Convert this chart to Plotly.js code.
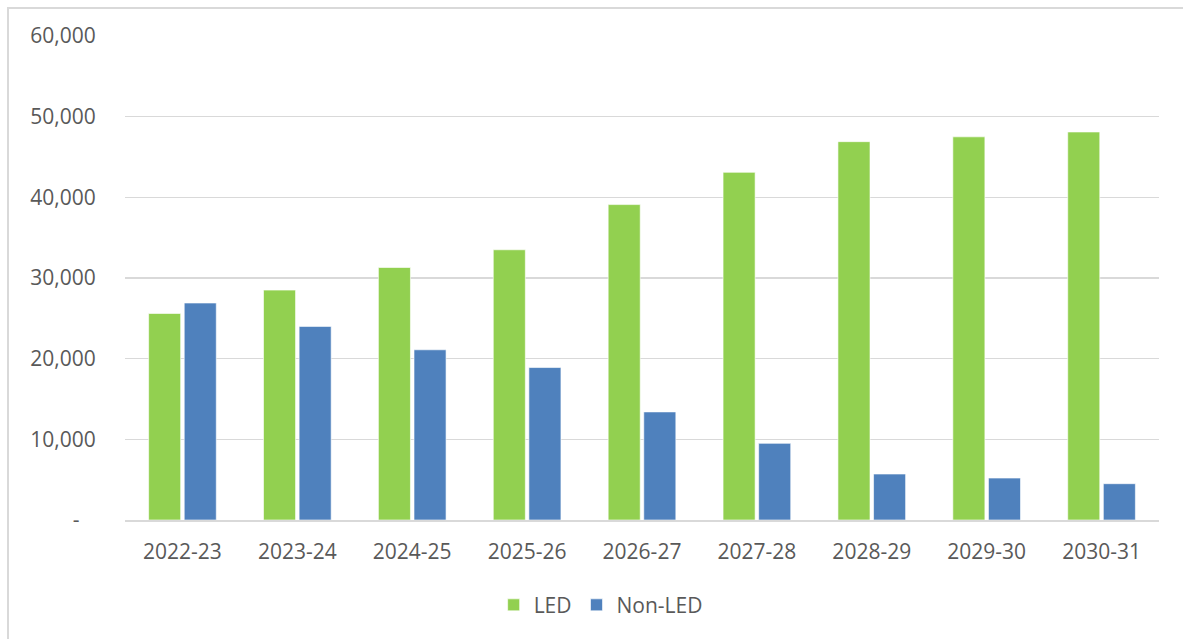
<!DOCTYPE html>
<html>
<head>
<meta charset="utf-8">
<script src="https://cdn.plot.ly/plotly-3.0.1.min.js"></script>
<style>
html,body{margin:0;padding:0;background:#fff;overflow:hidden;}
#wrap{position:relative;width:1183px;height:639px;}
#chart{position:absolute;left:0;top:0;width:1183px;height:639px;}
#frame{position:absolute;left:7px;top:7px;width:1200px;height:700px;border-left:2px solid #d9d9d9;border-top:2px solid #d9d9d9;pointer-events:none;}
</style>
</head>
<body>
<div id="wrap"><div id="chart"></div><div id="frame"></div></div>
<script>
const categories = ["2022-23","2023-24","2024-25","2025-26","2026-27","2027-28","2028-29","2029-30","2030-31"];
const ledValues = [25600, 28500, 31300, 33500, 39100, 43100, 46900, 47500, 48100];
const nonLedValues = [26900, 24000, 21100, 18900, 13400, 9500, 5700, 5200, 4500];
const yTickVals = [0, 10000, 20000, 30000, 40000, 50000, 60000];
const yTickText = ["-\u00a0\u00a0\u00a0", "10,000", "20,000", "30,000", "40,000", "50,000", "60,000"];

const fontFam = "'Open Sans', 'Noto Sans', sans-serif";
const FS = 21;
const traces = [
  {type:'bar', name:'LED', x:categories, y:ledValues,
   marker:{color:'#92d050', line:{color:'rgba(255,255,255,0.6)', width:1}}},
  {type:'bar', name:'Non-LED', x:categories, y:nonLedValues,
   marker:{color:'#4f81bd', line:{color:'rgba(255,255,255,0.6)', width:1}}}
];
const layout = {
  width:1183, height:639,
  margin:{l:125, r:24, t:36, b:119},
  paper_bgcolor:'#fff', plot_bgcolor:'#fff',
  font:{family:fontFam, size:FS, color:'#595959'},
  barmode:'group', bargap:0.38, bargroupgap:0.1,
  showlegend:true,
  legend:{orientation:'h', x:0.46, xanchor:'center', y:-0.176, yanchor:'middle',
          font:{size:FS, color:'#595959'}, itemwidth:30},
  xaxis:{type:'category', showgrid:false, zeroline:false, showline:true, linecolor:'#d9d9d9', linewidth:2,
         ticks:'outside', ticklen:12, tickcolor:'rgba(0,0,0,0)', tickfont:{size:FS, color:'#595959'}},
  yaxis:{range:[0,60000], tickvals:yTickVals, ticktext:yTickText, showgrid:true, gridcolor:'#d9d9d9', gridwidth:1.5,
         zeroline:false, showline:false, ticks:'outside', ticklen:24, tickcolor:'rgba(0,0,0,0)',
         tickfont:{size:FS, color:'#595959'}}
};
Plotly.newPlot('chart', traces, layout, {displayModeBar:false, staticPlot:true});
</script>
</body>
</html>
